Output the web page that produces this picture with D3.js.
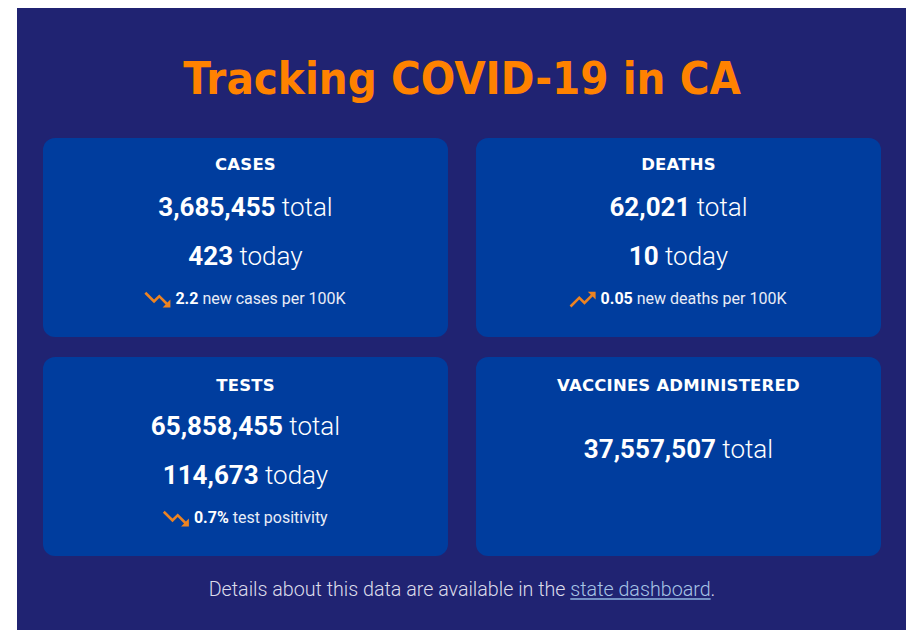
<!DOCTYPE html>
<html>
<head>
<meta charset="utf-8">
<script src="https://cdn.jsdelivr.net/npm/d3@7"></script>
<style>
    body { margin: 0; background: #fff; }
    #dashboard { width: 911px; height: 630px; }
</style>
</head>
<body>
<div id="dashboard"></div>
<script>

// data
const titleText = "Tracking COVID-19 in CA";
const metrics = ["CASES", "DEATHS", "TESTS", "VACCINES ADMINISTERED"];
const totals = [3685455, 62021, 65858455, 37557507];
const todays = [423, 10, 114673, null];
const rates = [2.2, 0.05, 0.7, null];
const rateUnits = ["", "", "%", ""];
const rateLabels = ["new cases per 100K", "new deaths per 100K", "test positivity", null];
const trends = ["down", "up", "down", null];
const footerText = "Details about this data are available in the ";
const footerLink = "state dashboard";

// material "trending" icons, 24x24 box
const iconPaths = {
    down: "M16 18l2.29-2.29-4.88-4.88-4 4L2 7.41 3.41 6l6 6 4-4 6.3 6.29L22 12v6z",
    up: "M16 6l2.29 2.29-4.88 4.88-4-4L2 16.59 3.41 18l6-6 4 4 6.3-6.29L22 12V6z"
};

class StatBoard {

    constructor(parentElement) {
        this.parentElement = parentElement;
        this.displayData = metrics.map((m, i) => ({
            metric: m,
            total: totals[i],
            today: todays[i],
            rate: rates[i],
            unit: rateUnits[i],
            rateLabel: rateLabels[i],
            trend: trends[i],
            col: i % 2,
            row: Math.floor(i / 2)
        }));
        this.initVis();
    }

    initVis() {
        let vis = this;
        vis.width = 911;
        vis.height = 630;

        vis.svg = d3.select("#" + vis.parentElement).append("svg")
            .attr("width", vis.width)
            .attr("height", vis.height);

        // navy panel
        vis.svg.append("rect")
            .attr("x", 17).attr("y", 8)
            .attr("width", 889).attr("height", 622)
            .attr("fill", "#202372");

        vis.xScale = d3.scaleBand().domain([0, 1]).range([43, 881]).paddingInner(0.0647);
        vis.yScale = d3.scaleBand().domain([0, 1]).range([138, 556]).paddingInner(0.0915);

        vis.fmt = d3.format(",");

        vis.drawTitle();
        vis.updateVis();
        vis.drawFooter();
    }

    // squeeze/stretch a text horizontally so it spans targetWidth
    fitWidth(g, text, targetWidth) {
        let w = text.node().getBBox().width;
        let k = targetWidth / w;
        let t = g.attr("transform") || "";
        g.attr("transform", t + ` scale(${k},1)`);
    }

    drawTitle() {
        let vis = this;
        let g = vis.svg.append("g").attr("transform", "translate(462,94)");
        let t = g.append("text")
            .attr("text-anchor", "middle")
            .attr("font-family", "'DejaVu Sans', sans-serif")
            .attr("font-weight", "bold")
            .attr("font-size", 44)
            .attr("fill", "#ff8200")
            .text(titleText);
        vis.fitWidth(g, t, 558);
    }

    updateVis() {
        let vis = this;
        let bw = vis.xScale.bandwidth();
        let bh = vis.yScale.bandwidth();

        let cards = vis.svg.selectAll(".card")
            .data(vis.displayData)
            .enter()
            .append("g")
            .attr("class", "card")
            .attr("transform", d => `translate(${vis.xScale(d.col)},${vis.yScale(d.row)})`);

        cards.append("rect")
            .attr("width", bw)
            .attr("height", bh)
            .attr("rx", 12)
            .attr("fill", "#003d9e");

        cards.append("text")
            .attr("x", bw / 2)
            .attr("y", d => d.row === 0 ? 32 : 34)
            .attr("text-anchor", "middle")
            .attr("font-family", "'DejaVu Sans', sans-serif")
            .attr("font-weight", "bold")
            .attr("font-size", 16.5)
            .attr("letter-spacing", 0.2)
            .attr("fill", "#fff")
            .text(d => d.metric);

        // total line
        let tot = cards.append("text")
            .attr("x", bw / 2)
            .attr("y", d => d.today === null ? 101 : 78)
            .attr("text-anchor", "middle")
            .attr("font-family", "Roboto, sans-serif")
            .attr("font-size", 26)
            .attr("fill", "#fff");
        tot.append("tspan").attr("font-weight", "bold").text(d => vis.fmt(d.total));
        tot.append("tspan").attr("font-weight", 300).text(" total");

        // today line
        let withToday = cards.filter(d => d.today !== null);
        let td = withToday.append("text")
            .attr("x", bw / 2)
            .attr("y", 127)
            .attr("text-anchor", "middle")
            .attr("font-family", "Roboto, sans-serif")
            .attr("font-size", 26)
            .attr("fill", "#fff");
        td.append("tspan").attr("font-weight", "bold").text(d => vis.fmt(d.today));
        td.append("tspan").attr("font-weight", 300).text(" today");

        // small rate line with trend icon
        let withRate = cards.filter(d => d.rate !== null);
        withRate.each(function (d) {
            let card = d3.select(this);
            let line = card.append("g");
            let txt = line.append("text")
                .attr("x", 0)
                .attr("y", 166)
                .attr("font-family", "Roboto, sans-serif")
                .attr("font-size", 16)
                .attr("fill", "#fff");
            txt.append("tspan").attr("font-weight", "bold").text(d.rate + d.unit);
            txt.append("tspan").attr("font-weight", 400).attr("fill", "#e8ecf6").text(" " + d.rateLabel);

            let s = 1.3;
            let iconW = 20 * s, gap = 5;
            let tw = txt.node().getBBox().width;
            let start = bw / 2 - (iconW + gap + tw) / 2;

            line.append("path")
                .attr("d", iconPaths[d.trend])
                .attr("fill", "#ec8322")
                .attr("transform", `translate(${start - 2 * s},${166 - 20}) scale(${s})`);
            txt.attr("x", start + iconW + gap);
        });
    }

    drawFooter() {
        let vis = this;
        let g = vis.svg.append("g").attr("transform", "translate(462,596)");
        let t = g.append("text")
            .attr("text-anchor", "middle")
            .attr("font-family", "Roboto, sans-serif")
            .attr("font-size", 21)
            .attr("font-weight", 300)
            .attr("fill", "#dcdcea");
        t.append("tspan").text(footerText);
        let link = t.append("tspan").attr("fill", "#a7c4e6").text(footerLink);
        t.append("tspan").text(".");
        vis.fitWidth(g, t, 507);

        // underline under the link
        let ext = link.node().getExtentOfChar(0);
        let n = footerLink.length;
        let last = link.node().getExtentOfChar(n - 1);
        g.append("line")
            .attr("x1", ext.x)
            .attr("x2", last.x + last.width)
            .attr("y1", 3)
            .attr("y2", 3)
            .attr("stroke", "#8fb6e2")
            .attr("stroke-width", 1.3);
    }
}

new StatBoard("dashboard");

</script>
</body>
</html>
